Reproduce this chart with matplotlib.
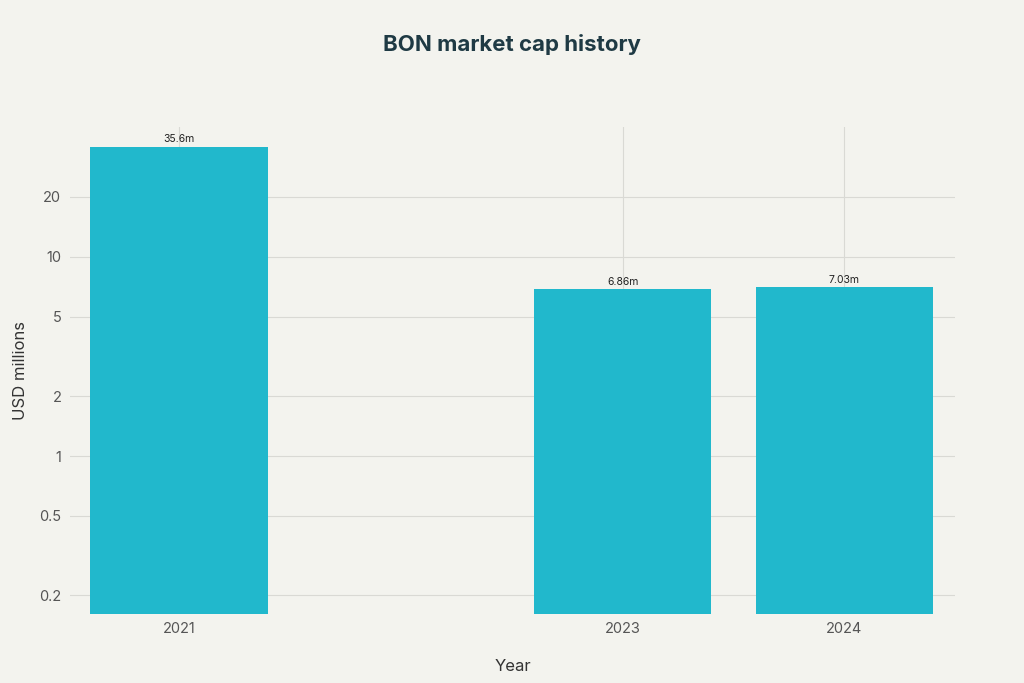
import matplotlib
matplotlib.use("Agg")
import matplotlib.pyplot as plt
from matplotlib.ticker import FixedLocator, FixedFormatter, NullLocator

years = [2021, 2023, 2024]
values = [35.6, 6.86, 7.03]
labels = ["35.6m", "6.86m", "7.03m"]
yticks = [0.2, 0.5, 1, 2, 5, 10, 20]
ytick_labels = ["0.2", "0.5", "1", "2", "5", "10", "20"]

bg = "#f3f3ee"
plt.rcParams['font.family'] = ['Inter', 'DejaVu Sans']
fig = plt.figure(figsize=(10.24, 6.83), dpi=100, facecolor=bg)
ax = fig.add_axes([0.068, 0.101, 0.865, 0.713], facecolor=bg)
ax.set_yscale('log')
ax.set_ylim(0.161, 44.8)
ax.set_xlim(2020.507, 2024.5)
bottom = 0.161
ax.bar(years, [v - bottom for v in values], bottom=bottom, width=0.8, color="#21b8cc", zorder=3)
for x, v, l in zip(years, values, labels):
    ax.text(x, v * 1.03, l, ha='center', va='bottom', fontsize=7.5, color='#222222', zorder=4)
ax.yaxis.set_major_locator(FixedLocator(yticks))
ax.yaxis.set_major_formatter(FixedFormatter(ytick_labels))
ax.yaxis.set_minor_locator(NullLocator())
ax.set_xticks(years)
ax.set_xticklabels([str(y) for y in years])
ax.grid(True, color='#d9d9d4', linewidth=0.8, zorder=0)
for s in ax.spines.values():
    s.set_visible(False)
ax.tick_params(length=0, colors='#555555', labelsize=10.5, pad=6)
ax.set_xlabel("Year", fontsize=12, color='#333333', labelpad=16)
ax.set_ylabel("USD millions", fontsize=12, color='#333333', labelpad=8)
fig.text(0.5, 0.935, "BON market cap history", ha='center', va='center',
         fontsize=16, fontweight='bold', color='#1f3a44')
fig.savefig("out.png", dpi=100, facecolor=bg)
